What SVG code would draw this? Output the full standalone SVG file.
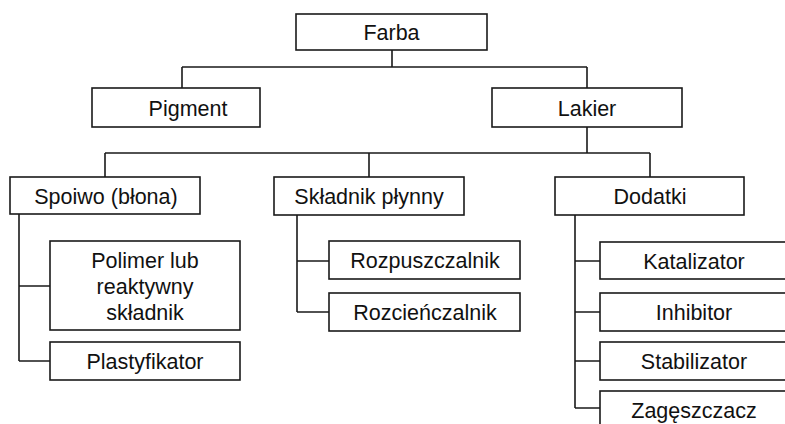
<svg xmlns="http://www.w3.org/2000/svg" width="785" height="424" viewBox="0 0 785 424">
<style>
.box{fill:#fff;stroke:#1a1a1a;stroke-width:1.6}
.ln{fill:none;stroke:#1a1a1a;stroke-width:1.6}
text{font-family:"Liberation Sans",Arial,sans-serif;font-size:21.5px;fill:#111;text-anchor:middle}
</style>
<rect width="785" height="424" fill="#fff"/>
<g id="connectors" class="ln">
<path d="M392,50V67M182,67H587M182,67V88M587,67V88"/>
<path d="M587,127V153M105,153H650M105,153V177M369,153V177M650,153V177"/>
<path d="M19,214V361M19,286H50M19,361H50"/>
<path d="M297,215V312M297,261H329M297,312H329"/>
<path d="M575,215V408M575,261H600M575,312H600M575,361H600M575,408H600"/>
</g>
<g id="farba"><rect class="box" x="296" y="14" width="191" height="36"/><text x="391.5" y="40">Farba</text></g>
<g id="pigment"><rect class="box" x="92" y="88" width="168" height="39"/><text x="188" y="115.5">Pigment</text></g>
<g id="lakier"><rect class="box" x="492" y="88" width="190" height="39"/><text x="587" y="115.5">Lakier</text></g>
<g id="spoiwo"><rect class="box" x="10" y="177" width="190" height="37"/><text x="106" y="203.5">Spoiwo  (błona)</text></g>
<g id="skladnik"><rect class="box" x="274" y="177" width="190" height="38"/><text x="369" y="204">Składnik płynny</text></g>
<g id="dodatki"><rect class="box" x="555" y="177" width="189" height="38"/><text x="650" y="204">Dodatki</text></g>
<g id="polimer"><rect class="box" x="50" y="241" width="190" height="89"/><text x="145" y="268">Polimer lub</text><text x="145" y="294">reaktywny</text><text x="145" y="320">składnik</text></g>
<g id="plastyfikator"><rect class="box" x="50" y="342" width="190" height="38"/><text x="145" y="369">Plastyfikator</text></g>
<g id="rozpuszczalnik"><rect class="box" x="329" y="241" width="191" height="38"/><text x="425" y="268">Rozpuszczalnik</text></g>
<g id="rozcienczalnik"><rect class="box" x="329" y="293" width="191" height="38"/><text x="425" y="320">Rozcieńczalnik</text></g>
<g id="katalizator"><rect class="box" x="600" y="242" width="190" height="37"/><text x="694" y="268.5">Katalizator</text></g>
<g id="inhibitor"><rect class="box" x="600" y="293" width="190" height="38"/><text x="694" y="320">Inhibitor</text></g>
<g id="stabilizator"><rect class="box" x="600" y="342" width="190" height="38"/><text x="694" y="369">Stabilizator</text></g>
<g id="zageszczacz"><rect class="box" x="600" y="391" width="190" height="38"/><text x="694" y="418">Zagęszczacz</text></g>
</svg>
